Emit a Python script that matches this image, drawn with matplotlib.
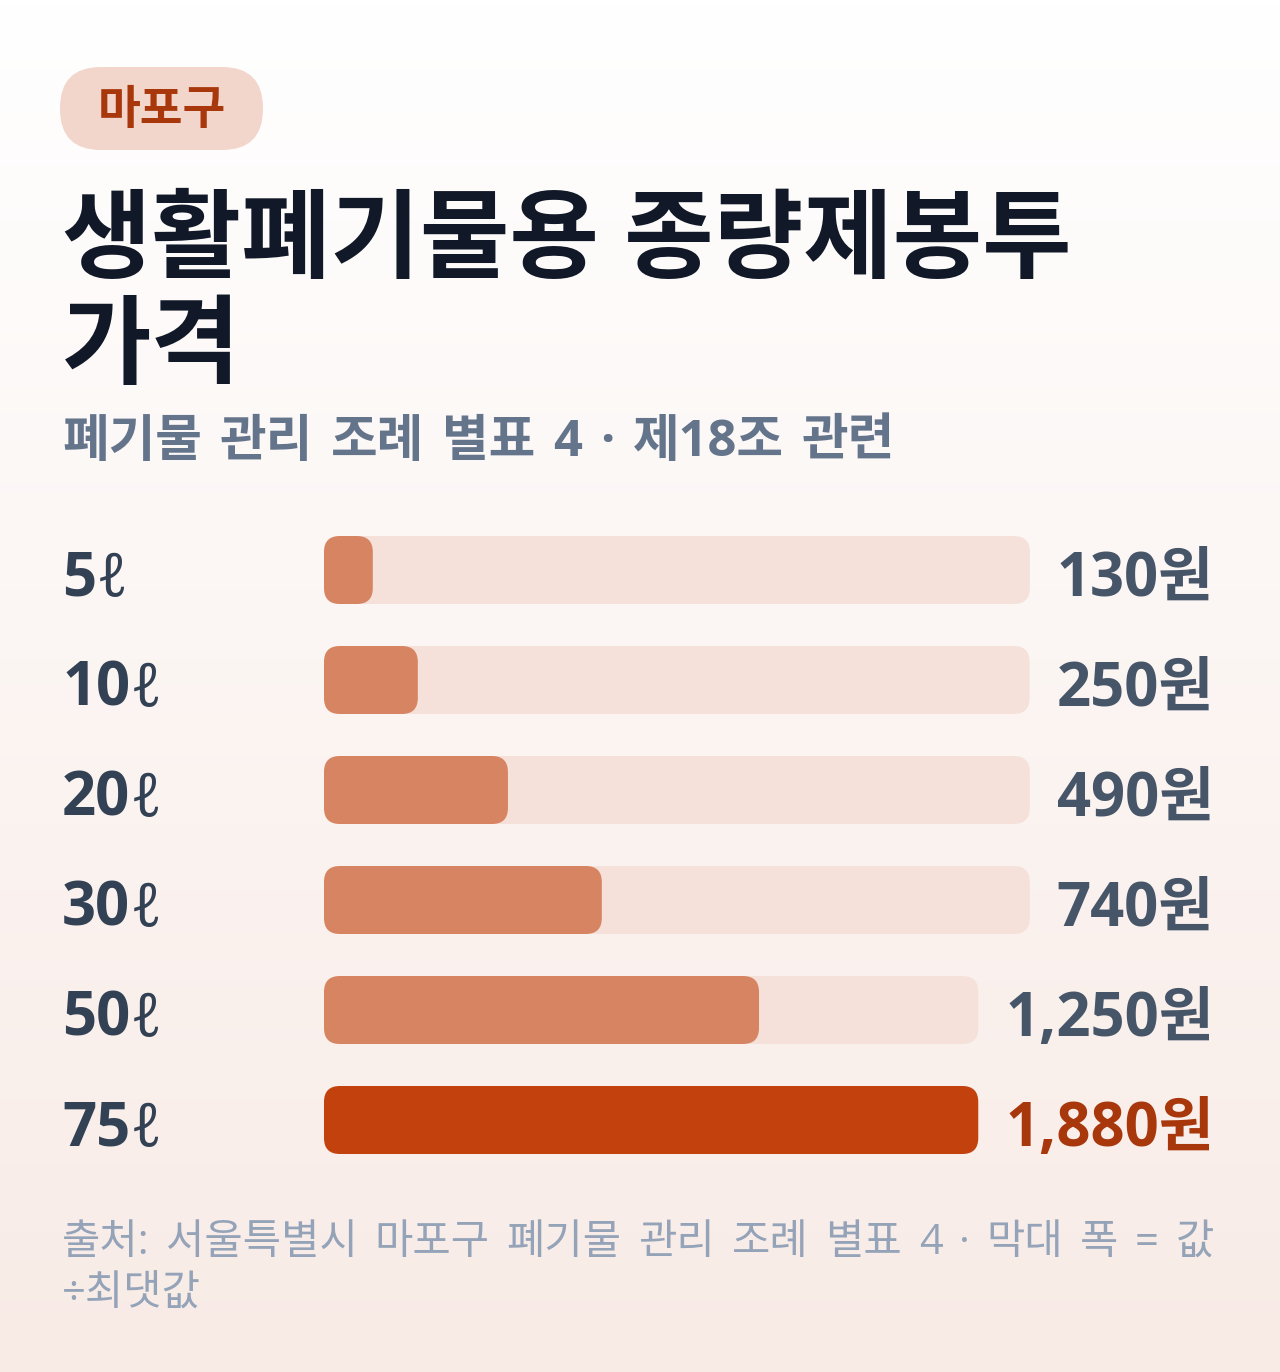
import matplotlib
matplotlib.use("Agg")
import matplotlib.pyplot as plt
import numpy as np
from matplotlib.patches import FancyBboxPatch
from matplotlib.colors import to_rgb

# ---- data ----
badge_text = "마포구"
title_lines = ["생활폐기물용 종량제봉투", "가격"]
subtitle = "폐기물 관리 조례 별표 4 · 제18조 관련"
categories = ["5ℓ", "10ℓ", "20ℓ", "30ℓ", "50ℓ", "75ℓ"]
prices = [130, 250, 490, 740, 1250, 1880]
footer_lines = ["출처: 서울특별시 마포구 폐기물 관리 조례 별표 4 · 막대 폭 = 값", "÷최댓값"]

FONT = ["Open Sans", "Noto Sans", "Noto Sans CJK KR", "DejaVu Sans"]
plt.rcParams["font.family"] = FONT

W, H = 1280, 1372
fig = plt.figure(figsize=(W / 100, H / 100), dpi=100)
ax = fig.add_axes([0, 0, 1, 1])
ax.set_xlim(0, W)
ax.set_ylim(H, 0)
ax.axis("off")
fig.canvas.draw()
renderer = fig.canvas.get_renderer()


def text_w(s, **kw):
    tt = ax.text(0, 0, s, **kw)
    w_ = tt.get_window_extent(renderer).width
    tt.remove()
    return w_


def spread_words(line, x_left, x_right, y, **kw):
    words = line.split(" ")
    widths = [text_w(w_, **kw) for w_ in words]
    space = (x_right - x_left - sum(widths)) / (len(words) - 1)
    x = x_left
    for w_, wd in zip(words, widths):
        ax.text(x, y, w_, ha="left", va="baseline", zorder=2, **kw)
        x += wd + space


# background gradient
top = np.array(to_rgb("#ffffff"))
bot = np.array(to_rgb("#f8ebe6"))
t = np.linspace(0, 1, 256)[:, None]
grad = top[None, :] * (1 - t) + bot[None, :] * t
ax.imshow(grad[:, None, :].repeat(2, axis=1), extent=[0, W, H, 0], aspect="auto", zorder=0)

# badge
ax.add_patch(FancyBboxPatch((60, 67), 203, 83, boxstyle="round,pad=0,rounding_size=41",
                            fc="#f2d5cb", ec="none", zorder=1))
ax.text(162, 112, badge_text, ha="center", va="center", fontsize=33.5, fontweight="bold",
        color="#a8380c", zorder=2)

# title
ax.text(62, 270, title_lines[0], ha="left", va="baseline", fontsize=70, fontweight="bold",
        color="#111827", zorder=2)
ax.text(62, 376, title_lines[1], ha="left", va="baseline", fontsize=70, fontweight="bold",
        color="#111827", zorder=2)

# subtitle (word spacing as in the reference)
spread_words(subtitle, 62, 895, 456, fontsize=36.5, fontweight="bold", color="#64748b")

# bars
row0, step, bh = 570, 110, 68
x0 = 324
val_right = 1214
min_col = 156
gap = 27
maxv = max(prices)
for i, (cat, v) in enumerate(zip(categories, prices)):
    yc = row0 + i * step
    base = yc + 26
    hi = v == maxv
    num, unit = cat[:-1], cat[-1]
    nt = ax.text(62, base, num, ha="left", va="baseline", fontsize=43, fontweight="bold",
                 color="#334155", zorder=2)
    nw = nt.get_window_extent(renderer).width
    ax.text(62 + nw + 0.5, base, unit, ha="left", va="baseline", fontsize=43,
            family=["Noto Sans", "DejaVu Sans"], fontweight="normal", color="#334155", zorder=2)
    vt = ax.text(val_right, base, f"{v:,}원", ha="right", va="baseline", fontsize=43,
                 fontweight="bold", color="#a8380c" if hi else "#475569", zorder=2)
    bb = vt.get_window_extent(renderer)
    col = max(min_col, bb.width)
    track_end = val_right - col - gap
    tw_track = track_end - x0
    ax.add_patch(FancyBboxPatch((x0, yc - bh / 2), tw_track, bh,
                                boxstyle="round,pad=0,rounding_size=16",
                                fc="#f5e1d9", ec="none", zorder=1))
    fw = v / maxv * tw_track
    ax.add_patch(FancyBboxPatch((x0, yc - bh / 2), fw, bh,
                                boxstyle=f"round,pad=0,rounding_size={min(16, fw / 2)}",
                                fc="#c2410c" if hi else "#d68461", ec="none", zorder=1.5))

# footer: first line justified to the right edge, second line left
fcol = "#94a3b8"
fsize = 30
spread_words(footer_lines[0], 62, val_right, 1254, fontsize=fsize, color=fcol)
ax.text(62, 1306, footer_lines[1], ha="left", va="baseline", fontsize=fsize, color=fcol, zorder=2)

fig.savefig("out.png", dpi=100)
